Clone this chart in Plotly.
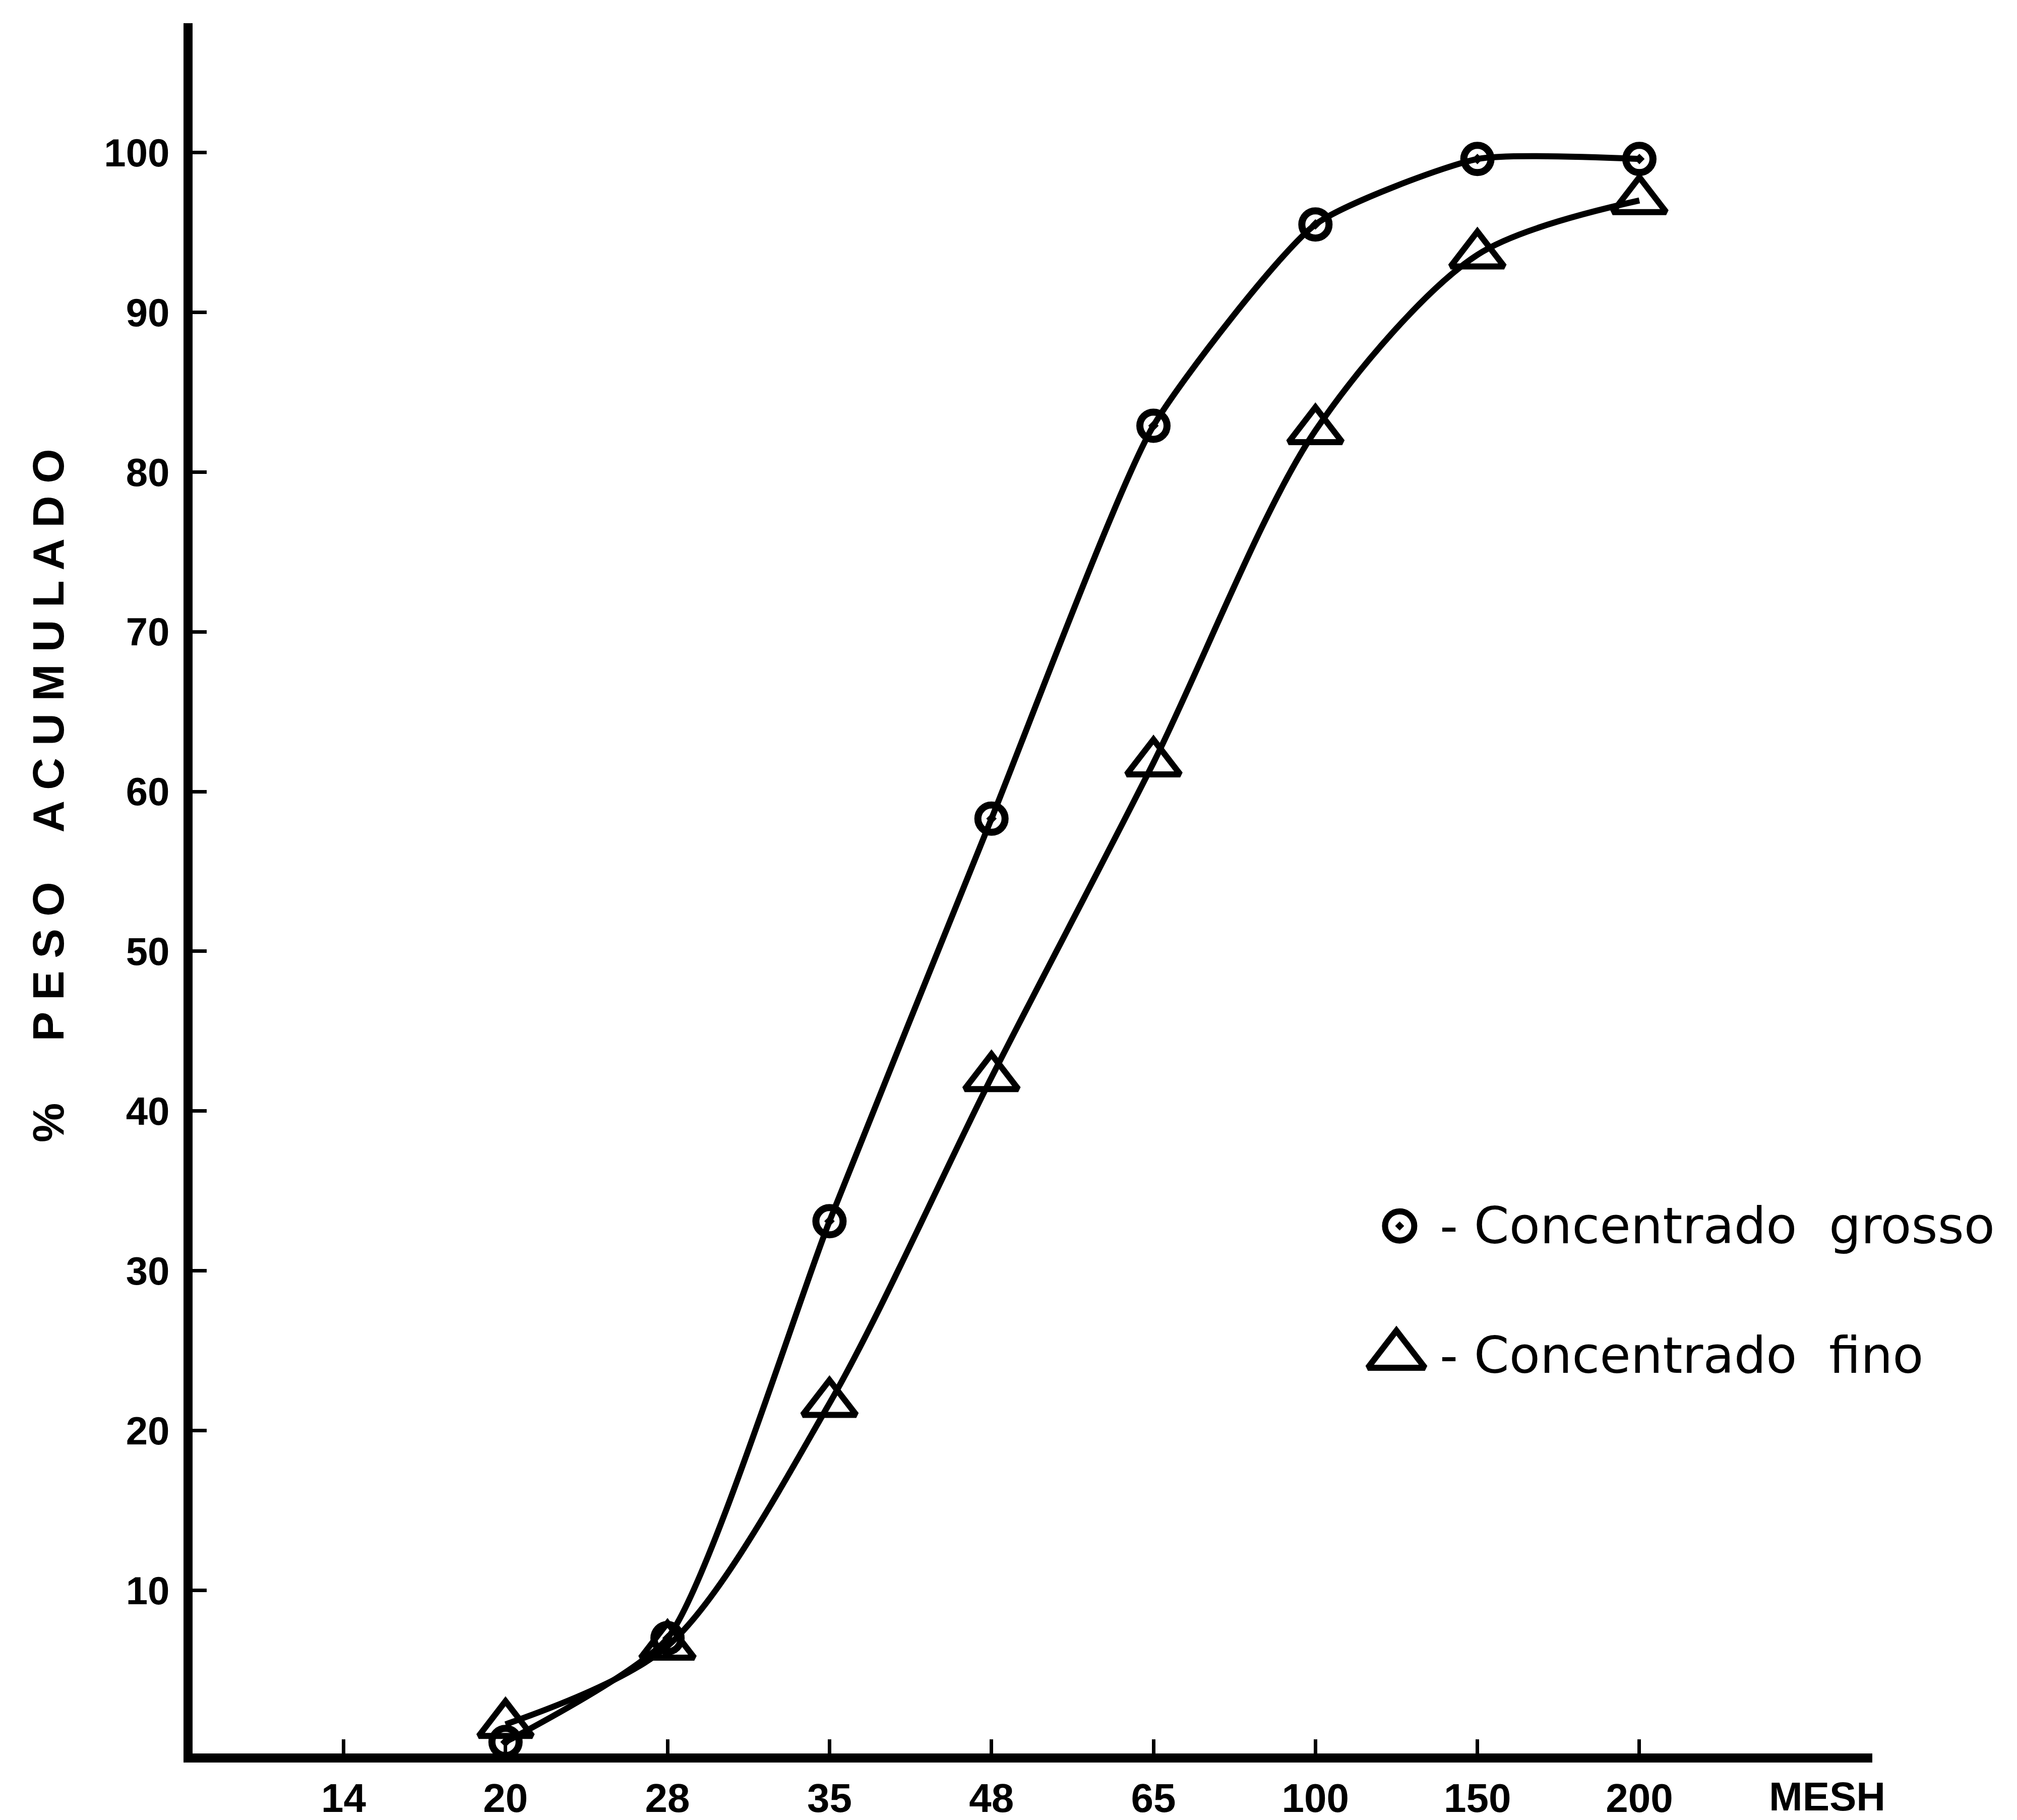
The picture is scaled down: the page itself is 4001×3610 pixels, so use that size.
import plotly.graph_objects as go

# Tyler mesh sieves (x axis categories)
mesh = ["14", "20", "28", "35", "48", "65", "100", "150", "200"]

# Cumulative retained weight (%) per sieve
grosso_mesh = ["20", "28", "35", "48", "65", "100", "150", "200"]
grosso_pct = [0.5, 7.0, 33.1, 58.3, 82.9, 95.5, 99.6, 99.6]

fino_mesh = ["20", "28", "35", "48", "65", "100", "150", "200"]
fino_pct = [1.6, 6.5, 21.7, 42.1, 61.8, 82.6, 93.6, 97.0]

y_ticks = [10, 20, 30, 40, 50, 60, 70, 80, 90, 100]

pos = {m: i for i, m in enumerate(mesh)}
FONT_LBL = "Liberation Sans"
FONT_TXT = "DejaVu Sans"

fig = go.Figure()

# Coarse concentrate: smooth curve with open dotted circles
fig.add_trace(go.Scatter(
    x=[pos[m] for m in grosso_mesh], y=grosso_pct,
    mode="lines+markers",
    line=dict(color="black", width=12, shape="spline", smoothing=0.55),
    marker=dict(symbol="circle-open-dot", size=54, color="black",
                line=dict(color="black", width=14)),
    showlegend=False, cliponaxis=False,
))

# Fine concentrate: smooth curve with open triangles
fig.add_trace(go.Scatter(
    x=[pos[m] for m in fino_mesh], y=fino_pct,
    mode="lines+markers",
    line=dict(color="black", width=12, shape="spline", smoothing=0.85),
    marker=dict(symbol="triangle-up-open", size=92, color="black",
                line=dict(color="black", width=12)),
    showlegend=False, cliponaxis=False,
))

# Legend keys drawn inside the plot
fig.add_trace(go.Scatter(
    x=[6.52], y=[32.8], mode="markers",
    marker=dict(symbol="circle-open-dot", size=58, color="black",
                line=dict(color="black", width=12)),
    showlegend=False, cliponaxis=False,
))
fig.add_trace(go.Scatter(
    x=[6.50], y=[24.7], mode="markers",
    marker=dict(symbol="triangle-up-open", size=98, color="black",
                line=dict(color="black", width=12)),
    showlegend=False, cliponaxis=False,
))

legend_font = dict(family=FONT_TXT, size=100, color="black")
fig.add_annotation(x=6.76, y=32.8, xref="x", yref="y",
                   text="-\u00a0Concentrado\u00a0\u00a0grosso",
                   showarrow=False, xanchor="left", yanchor="middle",
                   font=legend_font)
fig.add_annotation(x=6.76, y=24.7, xref="x", yref="y",
                   text="-\u00a0Concentrado\u00a0\u00a0fino",
                   showarrow=False, xanchor="left", yanchor="middle",
                   font=legend_font)

# Axis unit label at the end of the x axis
fig.add_annotation(x=9.16, y=-0.025, xref="x", yref="paper",
                   text="MESH", showarrow=False,
                   xanchor="center", yanchor="middle",
                   font=dict(family=FONT_LBL, size=80, color="black", weight="bold"))

# Vertical axis title
fig.add_annotation(x=95, y=1578, xref="paper", yref="paper",
                   text="%\u00a0\u00a0\u00a0\u00a0\u00a0P E S O\u00a0\u00a0\u00a0\u00a0A C U M U L A D O",
                   textangle=-90, showarrow=False,
                   xanchor="center", yanchor="middle",
                   font=dict(family=FONT_LBL, size=88, color="black", weight="bold"))

W, H = 4001, 3610
L, R, T, B = 382, 287, 46, 132
# convert the title annotation position from pixels to paper units
ann = fig.layout.annotations[-1]
ann.x = (ann.x - L) / (W - L - R)
ann.y = (H - B - ann.y) / (H - T - B)

fig.update_layout(
    width=W, height=H,
    margin=dict(l=L, r=R, t=T, b=B, pad=0, autoexpand=False),
    paper_bgcolor="white", plot_bgcolor="white",
    xaxis=dict(
        range=[-0.932, 9.438], automargin=False,
        tickmode="array", tickvals=list(range(len(mesh))), ticktext=mesh,
        showgrid=False, zeroline=False,
        showline=True, linecolor="black", linewidth=18,
        ticks="inside", ticklen=28, tickwidth=7, tickcolor="black",
        ticklabelstandoff=2,
        tickfont=dict(family=FONT_LBL, size=80, color="black", weight="bold"),
    ),
    yaxis=dict(
        range=[-0.22, 108.1], automargin=False,
        tickmode="array", tickvals=y_ticks, ticktext=[str(v) for v in y_ticks],
        showgrid=False, zeroline=False,
        showline=True, linecolor="black", linewidth=18,
        ticks="inside", ticklen=28, tickwidth=7, tickcolor="black",
        ticklabelstandoff=12,
        tickfont=dict(family=FONT_LBL, size=78, color="black", weight="bold"),
    ),
)

fig.write_html("out.html")
